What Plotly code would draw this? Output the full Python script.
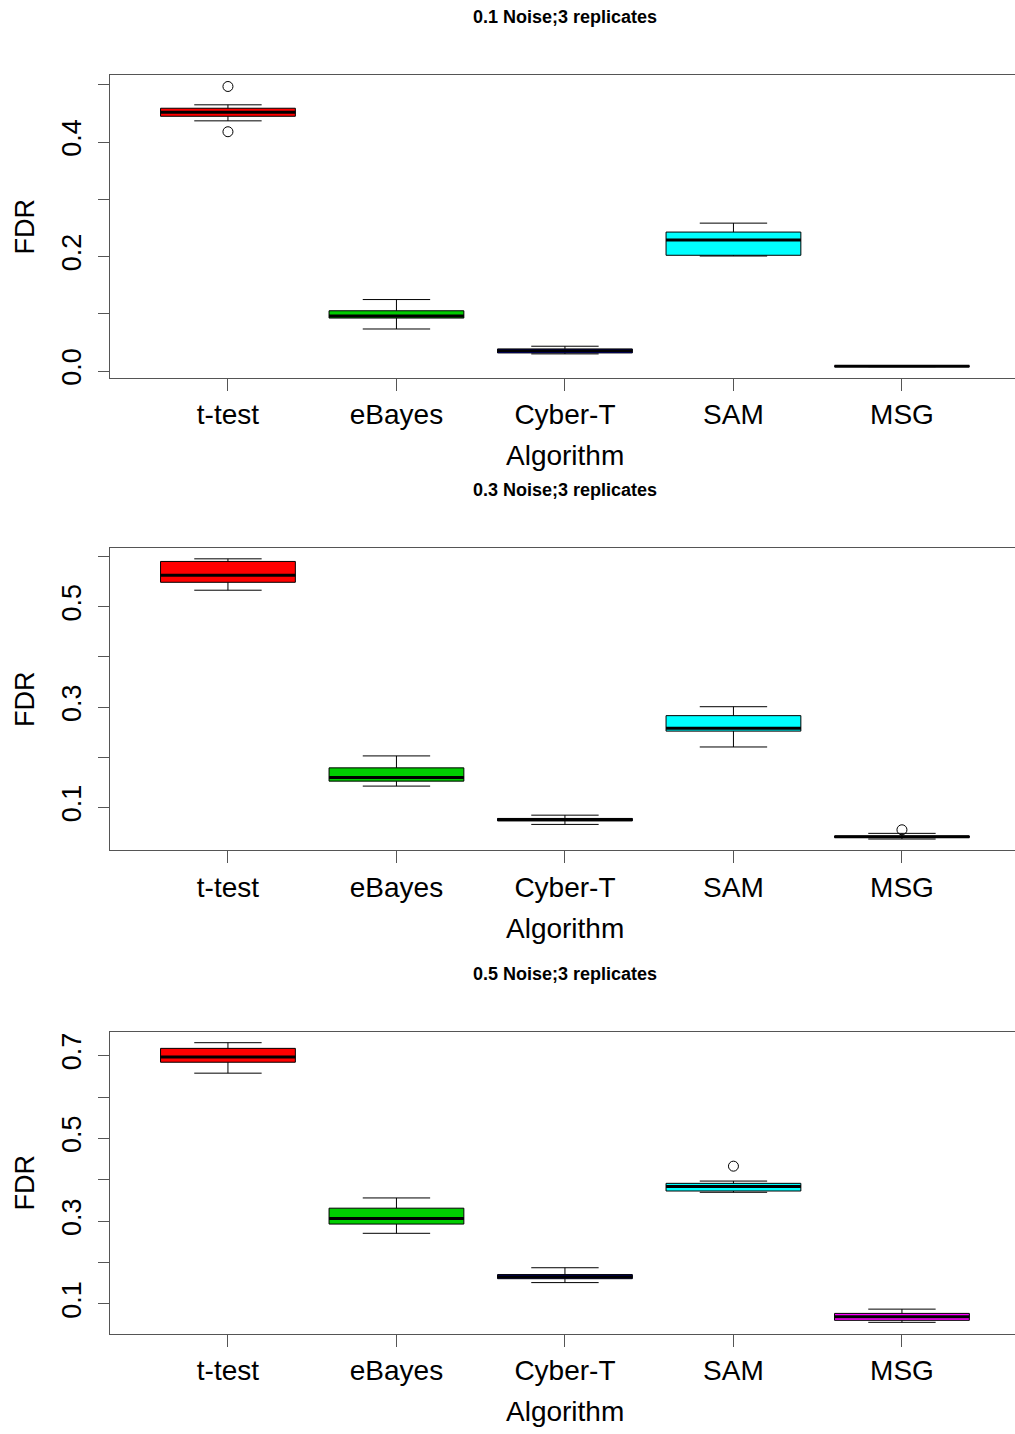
import plotly.graph_objects as go

# Algorithms compared and their box colours
algorithms = ["t-test", "eBayes", "Cyber-T", "SAM", "MSG"]
box_colors = ["#FF0000", "#00CD00", "#0000FF", "#00FFFF", "#FF00FF"]

panel_titles = ["0.1 Noise;3 replicates", "0.3 Noise;3 replicates", "0.5 Noise;3 replicates"]

# FDR box statistics per noise level (one value per algorithm)
lower_01 = [0.437, 0.0736, 0.0301, 0.201, 0.0078]
q1_01 = [0.445, 0.0927, 0.0318, 0.2023, 0.0082]
median_01 = [0.452, 0.0962, 0.0358, 0.2289, 0.0087]
q3_01 = [0.459, 0.1054, 0.0388, 0.2428, 0.0092]
upper_01 = [0.465, 0.125, 0.0435, 0.2584, 0.0096]
outlier_alg_01 = ["t-test", "t-test"]
outlier_val_01 = [0.497, 0.418]

lower_03 = [0.533, 0.1429, 0.0666, 0.2208, 0.0375]
q1_03 = [0.5488, 0.1528, 0.0735, 0.2524, 0.0405]
median_03 = [0.5626, 0.1601, 0.0765, 0.2583, 0.0421]
q3_03 = [0.5903, 0.1792, 0.0785, 0.2832, 0.0435]
upper_03 = [0.5955, 0.2030, 0.085, 0.301, 0.0488]
outlier_alg_03 = ["MSG"]
outlier_val_03 = [0.0559]

lower_05 = [0.6576, 0.2707, 0.1516, 0.3698, 0.0556]
q1_05 = [0.684, 0.293, 0.161, 0.3729, 0.0604]
median_05 = [0.6966, 0.3067, 0.166, 0.3835, 0.0693]
q3_05 = [0.7175, 0.3314, 0.171, 0.3914, 0.0772]
upper_05 = [0.7312, 0.3561, 0.1875, 0.3969, 0.0875]
outlier_alg_05 = ["SAM"]
outlier_val_05 = [0.4329]

# y-axis ticks (labels only on every other tick)
yticks_01 = [0.0, 0.1, 0.2, 0.3, 0.4, 0.5]
ylabels_01 = ["0.0", "", "0.2", "", "0.4", ""]
yticks_03 = [0.1, 0.2, 0.3, 0.4, 0.5, 0.6]
ylabels_03 = ["0.1", "", "0.3", "", "0.5", ""]
yticks_05 = [0.1, 0.2, 0.3, 0.4, 0.5, 0.6, 0.7]
ylabels_05 = ["0.1", "", "0.3", "", "0.5", "", "0.7"]

panels = [
    dict(lower=lower_01, q1=q1_01, med=median_01, q3=q3_01, upper=upper_01,
         out_alg=outlier_alg_01, out_val=outlier_val_01, ticks=yticks_01, labels=ylabels_01),
    dict(lower=lower_03, q1=q1_03, med=median_03, q3=q3_03, upper=upper_03,
         out_alg=outlier_alg_03, out_val=outlier_val_03, ticks=yticks_03, labels=ylabels_03),
    dict(lower=lower_05, q1=q1_05, med=median_05, q3=q3_05, upper=upper_05,
         out_alg=outlier_alg_05, out_val=outlier_val_05, ticks=yticks_05, labels=ylabels_05),
]

W, H = 1015, 1434
LEFT = 110
UNIT_PX = 168.5          # pixels per category step
plot_tops = [75.7, 550.7, 1037.3]
plot_bottoms = [380.0, 855.0, 1341.0]
FONT = "Liberation Sans, Arial, sans-serif"
AXIS_COLOR = "#555555"
TICK_FONT = 28

positions = list(range(1, len(algorithms) + 1))
x_range = [0.3, 0.3 + (W - LEFT) / UNIT_PX]

fig = go.Figure()
layout = dict(
    width=W, height=H,
    margin=dict(l=LEFT, r=0, t=0, b=0),
    paper_bgcolor="white", plot_bgcolor="white",
    showlegend=False,
    font=dict(family=FONT, color="black"),
    annotations=[],
)

for k, p in enumerate(panels):
    xa = "x" if k == 0 else f"x{k + 1}"
    ya = "y" if k == 0 else f"y{k + 1}"

    for i, alg in enumerate(algorithms):
        fig.add_trace(go.Box(
            x=[positions[i]], q1=[p["q1"][i]], median=[p["med"][i]], q3=[p["q3"][i]],
            lowerfence=[p["lower"][i]], upperfence=[p["upper"][i]],
            width=0.8, whiskerwidth=0.5, boxpoints=False,
            fillcolor=box_colors[i], line=dict(color="black", width=1),
            name=alg, xaxis=xa, yaxis=ya, hoverinfo="skip",
        ))

    # thick median bars
    mx, my = [], []
    for i in range(len(algorithms)):
        mx += [positions[i] - 0.4, positions[i] + 0.4, None]
        my += [p["med"][i], p["med"][i], None]
    fig.add_trace(go.Scatter(x=mx, y=my, mode="lines", line=dict(color="black", width=3),
                             xaxis=xa, yaxis=ya, hoverinfo="skip"))

    # outlying points
    ox = [positions[algorithms.index(a)] for a in p["out_alg"]]
    fig.add_trace(go.Scatter(x=ox, y=p["out_val"], mode="markers",
                             marker=dict(symbol="circle-open", size=10, color="black",
                                         line=dict(width=1)),
                             xaxis=xa, yaxis=ya, hoverinfo="skip"))

    # value range with a 4% pad on each side
    all_vals = p["lower"] + p["upper"] + p["out_val"]
    lo, hi = min(all_vals), max(all_vals)
    pad = 0.04 * (hi - lo)

    y0 = 1 - plot_bottoms[k] / H
    y1 = 1 - plot_tops[k] / H
    xkey = "xaxis" if k == 0 else f"xaxis{k + 1}"
    ykey = "yaxis" if k == 0 else f"yaxis{k + 1}"
    layout[xkey] = dict(
        domain=[0, 1], anchor=ya, range=x_range,
        tickmode="array", tickvals=positions, ticktext=algorithms,
        ticks="outside", ticklen=12, tickwidth=1, tickcolor=AXIS_COLOR,
        showline=True, linecolor=AXIS_COLOR, linewidth=1, mirror=True,
        showgrid=False, zeroline=False,
        tickfont=dict(size=TICK_FONT, family=FONT, color="black"),
    )
    layout[ykey] = dict(
        domain=[y0, y1], anchor=xa, range=[lo - pad, hi + pad],
        tickmode="array", tickvals=p["ticks"], ticktext=p["labels"],
        ticks="outside", ticklen=11, tickwidth=1, tickcolor=AXIS_COLOR,
        showline=True, linecolor=AXIS_COLOR, linewidth=1,
        showgrid=False, zeroline=False, tickangle=-90, ticklabelstandoff=6,
        tickfont=dict(size=27, family=FONT, color="black"),
    )

    dom = f"{ya} domain"
    layout["annotations"] += [
        dict(text=f"<b>{panel_titles[k]}</b>", xref="paper", yref=dom,
             x=(565 - LEFT) / (W - LEFT), y=1, yshift=58, xanchor="center", yanchor="middle",
             showarrow=False, font=dict(size=18, family=FONT, color="black")),
        dict(text="Algorithm", xref="paper", yref=dom,
             x=(565 - LEFT) / (W - LEFT), y=0, yshift=-78, xanchor="center", yanchor="middle",
             showarrow=False, font=dict(size=TICK_FONT, family=FONT, color="black")),
        dict(text="FDR", xref="paper", yref=dom, x=0, xshift=25 - LEFT, y=0.5,
             xanchor="center", yanchor="middle", textangle=-90,
             showarrow=False, font=dict(size=27, family=FONT, color="black")),
    ]

fig.update_layout(**layout)
fig.write_html("out.html")
